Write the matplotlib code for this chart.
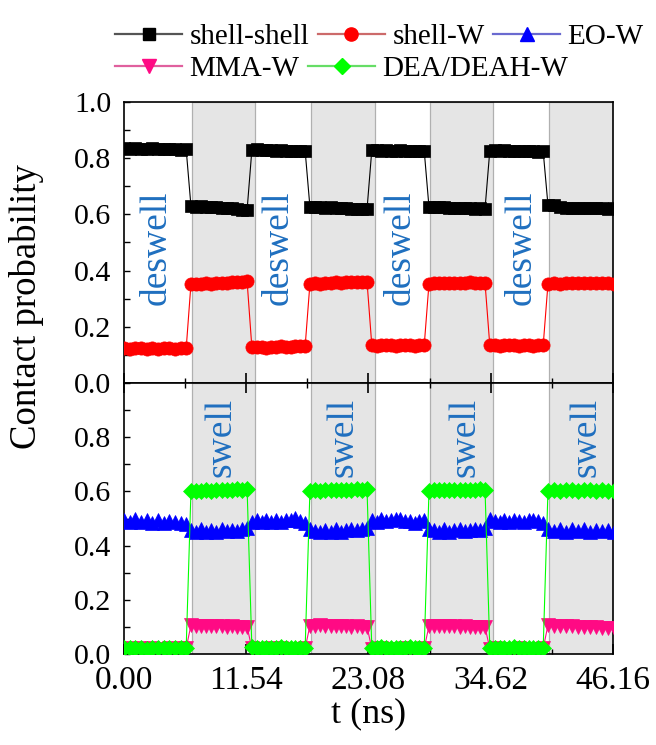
import numpy as np
import matplotlib
matplotlib.use("Agg")
import matplotlib.pyplot as plt
from matplotlib.lines import Line2D
from matplotlib.ticker import MultipleLocator

plt.rcParams['font.family'] = ['Liberation Serif', 'DejaVu Serif']

# ---- data -------------------------------------------------------------
xticks = [0.00, 11.54, 23.08, 34.62, 46.16]
xticklabels = ["0.00", "11.54", "23.08", "34.62", "46.16"]

# swell (shaded) intervals
shade_start = [6.42, 17.65, 28.89, 40.12]
shade_end = [12.37, 23.69, 34.83, 46.16]

# time span of each simulation phase (white, shaded, white, ...)
phase_start = [0.00, 6.32, 12.07, 17.55, 23.39, 28.79, 34.53, 40.02]
phase_end = [5.87, 11.62, 17.10, 22.94, 28.34, 34.08, 39.57, 46.30]

shell_shell = [
    [0.836, 0.833, 0.835, 0.834, 0.832, 0.835, 0.833, 0.831, 0.834, 0.832, 0.830, 0.831],
    [0.630, 0.628, 0.629, 0.626, 0.625, 0.626, 0.623, 0.621, 0.622, 0.619, 0.617, 0.616],
    [0.829, 0.831, 0.828, 0.830, 0.829, 0.827, 0.829, 0.826, 0.824, 0.826, 0.825, 0.826],
    [0.627, 0.626, 0.627, 0.624, 0.625, 0.623, 0.621, 0.622, 0.620, 0.619, 0.620, 0.618],
    [0.828, 0.829, 0.827, 0.828, 0.826, 0.827, 0.828, 0.825, 0.826, 0.824, 0.825, 0.826],
    [0.626, 0.627, 0.625, 0.626, 0.624, 0.622, 0.623, 0.621, 0.622, 0.620, 0.621, 0.620],
    [0.827, 0.828, 0.826, 0.828, 0.827, 0.825, 0.826, 0.827, 0.824, 0.825, 0.823, 0.824],
    [0.634, 0.632, 0.626, 0.624, 0.623, 0.624, 0.622, 0.623, 0.621, 0.622, 0.620, 0.621],
]
shell_W = [
    [0.124, 0.122, 0.125, 0.123, 0.121, 0.124, 0.122, 0.123, 0.125, 0.122, 0.124, 0.123],
    [0.352, 0.351, 0.354, 0.355, 0.353, 0.356, 0.357, 0.355, 0.358, 0.360, 0.359, 0.362],
    [0.127, 0.129, 0.128, 0.126, 0.129, 0.128, 0.130, 0.127, 0.129, 0.131, 0.130, 0.131],
    [0.353, 0.355, 0.354, 0.357, 0.356, 0.358, 0.357, 0.359, 0.358, 0.360, 0.359, 0.361],
    [0.135, 0.133, 0.136, 0.134, 0.135, 0.133, 0.136, 0.134, 0.135, 0.133, 0.135, 0.134],
    [0.354, 0.356, 0.355, 0.357, 0.356, 0.355, 0.357, 0.356, 0.358, 0.356, 0.357, 0.356],
    [0.134, 0.136, 0.133, 0.135, 0.134, 0.136, 0.133, 0.135, 0.134, 0.133, 0.135, 0.134],
    [0.352, 0.355, 0.354, 0.356, 0.355, 0.357, 0.356, 0.355, 0.357, 0.356, 0.355, 0.354],
]
EO_W = [
    [0.494, 0.486, 0.497, 0.488, 0.495, 0.485, 0.493, 0.484, 0.491, 0.487, 0.482, 0.478],
    [0.458, 0.450, 0.461, 0.452, 0.458, 0.449, 0.460, 0.453, 0.459, 0.455, 0.462, 0.466],
    [0.486, 0.493, 0.487, 0.495, 0.488, 0.494, 0.486, 0.493, 0.496, 0.502, 0.492, 0.483],
    [0.461, 0.454, 0.450, 0.459, 0.452, 0.461, 0.451, 0.458, 0.463, 0.456, 0.462, 0.466],
    [0.493, 0.488, 0.497, 0.490, 0.495, 0.500, 0.497, 0.492, 0.489, 0.485, 0.491, 0.495],
    [0.463, 0.456, 0.452, 0.461, 0.451, 0.458, 0.463, 0.453, 0.459, 0.462, 0.456, 0.464],
    [0.497, 0.491, 0.488, 0.496, 0.487, 0.494, 0.490, 0.486, 0.493, 0.496, 0.489, 0.485],
    [0.462, 0.455, 0.463, 0.452, 0.460, 0.454, 0.462, 0.451, 0.459, 0.453, 0.457, 0.452],
]
MMA_W = [
    [0.020, 0.021, 0.019, 0.021, 0.020, 0.021, 0.019, 0.020, 0.021, 0.019, 0.021, 0.022],
    [0.106, 0.104, 0.105, 0.103, 0.104, 0.102, 0.103, 0.101, 0.102, 0.100, 0.101, 0.100],
    [0.021, 0.019, 0.020, 0.019, 0.021, 0.020, 0.021, 0.019, 0.020, 0.019, 0.020, 0.021],
    [0.105, 0.104, 0.106, 0.103, 0.104, 0.102, 0.103, 0.102, 0.101, 0.102, 0.100, 0.101],
    [0.020, 0.019, 0.021, 0.020, 0.019, 0.020, 0.019, 0.021, 0.020, 0.019, 0.020, 0.021],
    [0.104, 0.105, 0.103, 0.104, 0.102, 0.103, 0.101, 0.102, 0.100, 0.101, 0.100, 0.099],
    [0.020, 0.021, 0.019, 0.020, 0.019, 0.020, 0.021, 0.019, 0.020, 0.019, 0.020, 0.021],
    [0.106, 0.105, 0.104, 0.103, 0.102, 0.101, 0.100, 0.099, 0.098, 0.097, 0.096, 0.095],
]
DEA_W = [
    [0.022, 0.021, 0.023, 0.022, 0.020, 0.022, 0.021, 0.023, 0.022, 0.021, 0.022, 0.023],
    [0.600, 0.602, 0.601, 0.604, 0.603, 0.605, 0.604, 0.606, 0.605, 0.608, 0.607, 0.610],
    [0.024, 0.022, 0.023, 0.021, 0.023, 0.022, 0.024, 0.022, 0.023, 0.021, 0.022, 0.023],
    [0.602, 0.604, 0.603, 0.605, 0.604, 0.606, 0.605, 0.607, 0.606, 0.608, 0.607, 0.609],
    [0.023, 0.022, 0.024, 0.022, 0.023, 0.021, 0.023, 0.022, 0.024, 0.022, 0.023, 0.022],
    [0.603, 0.605, 0.604, 0.606, 0.605, 0.607, 0.606, 0.605, 0.607, 0.606, 0.608, 0.607],
    [0.022, 0.023, 0.021, 0.023, 0.022, 0.024, 0.022, 0.023, 0.021, 0.022, 0.023, 0.022],
    [0.602, 0.604, 0.603, 0.605, 0.604, 0.603, 0.605, 0.604, 0.603, 0.604, 0.602, 0.603],
]

deswell_x = [3.1, 14.58, 26.06, 37.55]
swell_x = [9.2, 20.7, 32.2, 43.65]

# ---- helpers ----------------------------------------------------------
def timeline(values):
    t = np.concatenate([np.linspace(s, e, len(v))
                        for s, e, v in zip(phase_start, phase_end, values)])
    y = np.concatenate([np.asarray(v) for v in values])
    return t, y

series = [
    ("shell-shell", shell_shell, 's', 'black', '#555555', 8.5, 0),
    ("shell-W", shell_W, 'o', '#ff0000', '#cc6a6a', 9.5, 0),
    ("EO-W", EO_W, '^', '#0000ff', '#6a6ad0', 9.5, 1),
    ("MMA-W", MMA_W, 'v', '#ff0a84', '#e0609e', 9.5, 1),
    ("DEA/DEAH-W", DEA_W, 'D', '#00ff00', '#66dd66', 8, 1),
]

# ---- figure -----------------------------------------------------------
fig = plt.figure(figsize=(6.56, 7.45), dpi=100)
L, R = 124 / 656, 613 / 656
ax1 = fig.add_axes([L, 1 - 383 / 745, R - L, (383 - 102) / 745])
ax2 = fig.add_axes([L, 1 - 654 / 745, R - L, (654 - 383) / 745])

text_color = '#1f6fbf'
for ax in (ax1, ax2):
    for s, e in zip(shade_start, shade_end):
        ax.axvspan(s, e, facecolor='#e5e5e5', edgecolor='#b0b0b0',
                   linewidth=0.9, zorder=0)
    ax.set_xlim(0, 46.16)
    ax.set_ylim(0, 1.0)
    ax.set_xticks(xticks)
    ax.xaxis.set_minor_locator(MultipleLocator(5.77))
    ax.yaxis.set_minor_locator(MultipleLocator(0.1))
    for sp in ax.spines.values():
        sp.set_linewidth(1.2)
    ax.tick_params(axis='y', which='both', direction='in', length=4,
                   width=1.0, labelsize=21.5, pad=9, right=False)
    ax.tick_params(axis='x', which='major', direction='in', length=7.5, width=1.2)
    ax.tick_params(axis='x', which='minor', direction='in', length=3.8, width=1.0)

ax1.set_yticks([0.0, 0.2, 0.4, 0.6, 0.8, 1.0])
ax1.set_yticklabels(["0.0", "0.2", "0.4", "0.6", "0.8", "1.0"])
ax1.tick_params(axis='x', which='both', labelbottom=False, top=False)
ax2.set_yticks([0.0, 0.2, 0.4, 0.6, 0.8])
ax2.set_yticklabels(["0.0", "0.2", "0.4", "0.6", "0.8"])
ax2.tick_params(axis='x', which='both', top=True, bottom=True,
                labelsize=24, pad=8)
ax2.set_xticklabels(xticklabels)

handles = []
for name, vals, mk, col, lcol, ms, panel in series:
    t, y = timeline(vals)
    ax = ax1 if panel == 0 else ax2
    ax.plot(t, y, color=col, lw=0.8, marker=mk, ms=ms, mfc=col, mec=col,
            mew=0.5, clip_on=True, zorder=3)
    handles.append(Line2D([], [], color=lcol, lw=1.6, marker=mk, ms=ms,
                          mfc=col, mec=col, label=name))

for x in deswell_x:
    ax1.text(x, 0.48, "deswell", rotation=90, ha='center', va='center',
             fontsize=27, color=text_color, zorder=4)
for x in swell_x:
    ax2.text(x, 0.80, "swell", rotation=90, ha='center', va='center',
             fontsize=27, color=text_color, zorder=4)

fig.text(27 / 656, 1 - 307 / 745, "Contact probability", rotation=90,
         ha='center', va='center', fontsize=26.5)
fig.text(368.5 / 656, 1 - 714 / 745, "t (ns)", ha='center', va='center',
         fontsize=26)

leg_kw = dict(frameon=False, fontsize=21, handlelength=2.3, handletextpad=0.25,
              columnspacing=0.3, borderpad=0, borderaxespad=0, loc='upper left')
leg1 = fig.legend(handles=handles[:3], ncol=3, bbox_to_anchor=(115 / 656, 1 - 24 / 745),
                  **leg_kw)
leg2 = fig.legend(handles=handles[3:], ncol=2, bbox_to_anchor=(115 / 656, 1 - 56 / 745),
                  **leg_kw)

fig.savefig("out.png", dpi=100)
